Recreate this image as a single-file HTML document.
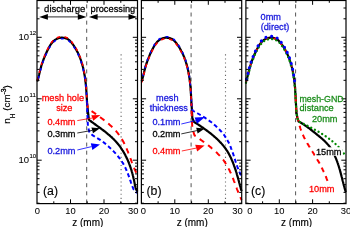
<!DOCTYPE html><html><head><meta charset="utf-8"><style>html,body{margin:0;padding:0;background:#fff;width:350px;height:227px;overflow:hidden}svg{display:block;will-change:transform}text{font-family:"Liberation Sans",sans-serif}</style></head><body>
<svg width="350" height="227" viewBox="0 0 350 227">
<rect width="350" height="227" fill="#fff"/>
<line x1="86.7" y1="0" x2="86.7" y2="203.6" stroke="#555" stroke-width="1" stroke-dasharray="4 4.127" stroke-dashoffset="3.73"/>
<line x1="121.1" y1="54.3" x2="121.1" y2="203.6" stroke="#666" stroke-width="1.1" stroke-dasharray="1.1 3"/>
<line x1="191.1" y1="0" x2="191.1" y2="203.6" stroke="#555" stroke-width="1" stroke-dasharray="4 4.127" stroke-dashoffset="3.73"/>
<line x1="225.5" y1="54.3" x2="225.5" y2="203.6" stroke="#666" stroke-width="1.1" stroke-dasharray="1.1 3"/>
<line x1="295.6" y1="0" x2="295.6" y2="203.6" stroke="#555" stroke-width="1" stroke-dasharray="4 4.127" stroke-dashoffset="3.73"/>
<g fill="none" stroke-linejoin="round">
<path d="M37.1,81.5 37.5,80.6 37.8,79.6 38.1,78.6 38.3,77.7 38.6,76.7 38.8,75.7 39.1,74.7 39.3,73.8 39.6,72.8 39.8,71.8 40,70.8 40.3,69.8 40.5,68.9 40.8,67.9 41.1,66.9 41.3,65.9 41.6,65 41.9,64 42.3,63 42.6,62.1 42.9,61.1 43.3,60.2 43.6,59.2 44,58.3 44.4,57.4 44.8,56.4 45.1,55.5 45.5,54.6 46,53.6 46.4,52.7 46.8,51.8 47.2,50.9 47.7,50 48.1,49.1 48.6,48.2 49.1,47.3 49.6,46.4 50.1,45.5 50.6,44.7 51.2,43.9 51.8,43.1 52.5,42.3 53.1,41.5 53.9,40.8 54.7,40.2 55.5,39.6 56.4,39.1 57.3,38.7 58.2,38.3 59.2,38 60.2,37.8 61.2,37.7 62.2,37.7 63.2,37.8 64.2,37.9 65.2,38.1 66.1,38.4 67.1,38.8 68,39.3 68.8,39.9 69.6,40.5 70.3,41.2 71,42 71.6,42.7 72.2,43.5 72.8,44.4 73.4,45.2 74,46 74.5,46.9 75.1,47.7 75.6,48.6 76.1,49.5 76.6,50.4 77,51.2 77.5,52.1 78,53.1 78.4,54 78.8,54.9 79.2,55.8 79.6,56.8 80,57.7 80.3,58.6 80.7,59.6 81,60.5 81.3,61.5 81.6,62.5 81.9,63.4 82.2,64.4 82.5,65.4 82.7,66.3 83,67.3 83.2,68.3 83.4,69.3 83.7,70.3 83.9,71.3 84.1,72.3 84.2,73.3 84.4,74.2 84.6,75.2 84.8,76.2 84.9,77.2 85.1,78.2 85.2,79.2 85.3,80.2 85.4,81.2 85.6,82.3 85.7,83.3 85.8,84.3 85.9,85.3 86,86.3 86.1,87.3 86.2,88.3 86.2,89.3 86.3,90.3 86.4,91.3 86.4,92.3 86.5,93.3 86.6,94.3 86.6,95.3 86.7,96.4 86.7,97.4 86.8,98.4 86.9,99.4 86.9,100.4 87,101.4 87,102.4 87.6,108 88.3,115 88.9,119.5 89.5,120.3 90.4,120.9 91.2,121.5 92,122.1 92.8,122.7 93.7,123.3 94.5,123.9 95.3,124.5 96.1,125.1 96.9,125.7 97.8,126.3 98.6,126.9 99.4,127.5 100.2,128 101,128.6 101.9,129.3 102.7,129.9 103.5,130.5 104.3,131.1 105.1,131.7 105.9,132.3 106.7,133 107.4,133.6 108.2,134.3 109,134.9 109.8,135.6 110.5,136.3 111.3,136.9 112,137.6 112.7,138.3 113.5,139 114.2,139.8 114.9,140.5 115.6,141.2 116.3,142 116.9,142.7 117.6,143.5 118.2,144.3 118.9,145.1 119.5,145.9 120.1,146.7 120.7,147.5 121.2,148.4 121.8,149.2 122.3,150.1 122.9,150.9 123.4,151.8 123.9,152.7 124.4,153.5 124.9,154.4 125.4,155.3 125.8,156.2 126.3,157.1 126.7,158.1 127.2,159 127.6,159.9 128,160.8 128.4,161.8 128.8,162.7 129.1,163.6 129.5,164.6 129.8,165.5 130.2,166.5 130.5,167.4 130.8,168.4 131.2,169.4 131.5,170.3 131.7,171.3 132,172.3 132.3,173.3 132.6,174.2 132.8,175.2 133.1,176.2 133.3,177.2 133.5,178.2 133.8,179.2 134,180.1 134.2,181.1 134.4,182.1 134.6,183.1 134.8,184.1 134.9,185.1 135.2,186.1 135.4,187.1 135.7,188.1 136,189 136.4,189.9 136.9,190.8 137.5,191.7" stroke="#000" stroke-width="2.2"/>
<path d="M37.1,80.5 37.5,79.6 37.8,78.6 38.1,77.6 38.3,76.7 38.6,75.7 38.8,74.7 39.1,73.7 39.3,72.8 39.6,71.8 39.8,70.8 40,69.8 40.3,68.8 40.5,67.9 40.8,66.9 41.1,65.9 41.3,64.9 41.6,64 41.9,63 42.3,62 42.6,61.1 42.9,60.1 43.3,59.2 43.6,58.2 44,57.3 44.4,56.4 44.8,55.4 45.1,54.5 45.5,53.6 46,52.6 46.4,51.7 46.8,50.8 47.2,49.9 47.7,49 48.1,48.1 48.6,47.2 49.1,46.3 49.6,45.4 50.1,44.5 50.6,43.7 51.2,42.9 51.8,42.1 52.5,41.3 53.1,40.5 53.9,39.8 54.7,39.2 55.5,38.6 56.4,38.1 57.3,37.7 58.2,37.3 59.2,37 60.2,36.8 61.2,36.7 62.2,36.7 63.2,36.8 64.2,36.9 65.2,37.1 66.1,37.4 67.1,37.8 68,38.3 68.8,38.9 69.6,39.5 70.3,40.2 71,41 71.6,41.7 72.2,42.5 72.8,43.4 73.4,44.2 74,45 74.5,45.9 75.1,46.7 75.6,47.6 76.1,48.5 76.6,49.4 77,50.2 77.5,51.1 78,52.1 78.4,53 78.8,53.9 79.2,54.8 79.6,55.8 80,56.7 80.3,57.6 80.7,58.6 81,59.5 81.3,60.5 81.6,61.5 81.9,62.4 82.2,63.4 82.5,64.4 82.7,65.3 83,66.3 83.2,67.3 83.4,68.3 83.7,69.3 83.9,70.3 84.1,71.3 84.2,72.3 84.4,73.2 84.6,74.2 84.8,75.2 84.9,76.2 85.1,77.2 85.2,78.2 85.3,79.2 85.4,80.2 85.6,81.3 85.7,82.3 85.8,83.3 85.9,84.3 86,85.3 86.1,86.3 86.2,87.3 86.2,88.3 86.3,89.3 86.4,90.3 86.4,91.3 86.5,92.3 86.6,93.3 86.6,94.3 86.7,95.4 86.7,96.4 86.8,97.4 86.9,98.4 86.9,99.4 87,100.4 87,101.4 87.1,102.4 87.1,103.4" stroke="#f00" stroke-width="1.6" stroke-dasharray="3.5 4.5" stroke-dashoffset="0"/>
<path d="M87.1,103.4 87.6,106.5 88.6,108.8 89.4,109.5 90.2,110.1 91,110.7 91.9,111.3 92.7,111.9 93.5,112.4 94.4,113 95.2,113.6 96,114.2 96.8,114.8 97.7,115.4 98.5,116 99.3,116.6 100.1,117.2 100.9,117.8 101.7,118.4 102.6,119 103.4,119.6 104.2,120.2 105,120.8 105.7,121.5 106.5,122.1 107.3,122.7 108.1,123.4 108.9,124.1 109.6,124.7 110.4,125.4 111.1,126.1 111.9,126.8 112.6,127.5 113.3,128.2 114,128.9 114.7,129.7 115.4,130.4 116.1,131.1 116.7,131.9 117.4,132.7 118,133.5 118.6,134.3 119.2,135.1 119.8,135.9 120.4,136.8 121,137.6 121.5,138.5 122,139.3 122.5,140.2 123,141.1 123.5,142 124,142.9 124.4,143.8 124.9,144.7 125.3,145.6 125.7,146.5 126.1,147.5 126.5,148.4 126.9,149.3 127.3,150.3 127.7,151.2 128.1,152.1 128.4,153.1 128.8,154 129.2,155 129.5,155.9 129.9,156.9 130.2,157.8 130.6,158.8 130.9,159.7 131.3,160.7 131.6,161.6 132,162.6 132.4,163.5 132.7,164.4 133.1,165.4 133.5,166.3 133.9,167.3 134.2,168.2 134.6,169.1 135,170.1 135.5,171 135.9,171.9 136.3,172.8 136.8,173.7 137.2,174.6" stroke="#f00" stroke-width="2" stroke-dasharray="5.5 4.9" stroke-dashoffset="1"/>
<path d="M37.1,82.5 37.5,81.6 37.8,80.6 38.1,79.6 38.3,78.7 38.6,77.7 38.8,76.7 39.1,75.7 39.3,74.8 39.6,73.8 39.8,72.8 40,71.8 40.3,70.8 40.5,69.9 40.8,68.9 41.1,67.9 41.3,66.9 41.6,66 41.9,65 42.3,64 42.6,63.1 42.9,62.1 43.3,61.2 43.6,60.2 44,59.3 44.4,58.4 44.8,57.4 45.1,56.5 45.5,55.6 46,54.6 46.4,53.7 46.8,52.8 47.2,51.9 47.7,51 48.1,50.1 48.6,49.2 49.1,48.3 49.6,47.4 50.1,46.5 50.6,45.7 51.2,44.9 51.8,44.1 52.5,43.3 53.1,42.5 53.9,41.8 54.7,41.2 55.5,40.6 56.4,40.1 57.3,39.7 58.2,39.3 59.2,39 60.2,38.8 61.2,38.7 62.2,38.7 63.2,38.8 64.2,38.9 65.2,39.1 66.1,39.4 67.1,39.8 68,40.3 68.8,40.9 69.6,41.5 70.3,42.2 71,43 71.6,43.7 72.2,44.5 72.8,45.4 73.4,46.2 74,47 74.5,47.9 75.1,48.7 75.6,49.6 76.1,50.5 76.6,51.4 77,52.2 77.5,53.1 78,54.1 78.4,55 78.8,55.9 79.2,56.8 79.6,57.8 80,58.7 80.3,59.6 80.7,60.6 81,61.5 81.3,62.5 81.6,63.5 81.9,64.4 82.2,65.4 82.5,66.4 82.7,67.3 83,68.3 83.2,69.3 83.4,70.3 83.7,71.3 83.9,72.3 84.1,73.3 84.2,74.3 84.4,75.2 84.6,76.2 84.8,77.2 84.9,78.2 85.1,79.2 85.2,80.2 85.3,81.2 85.4,82.2 85.6,83.3 85.7,84.3 85.8,85.3 85.9,86.3 86,87.3 86.1,88.3 86.2,89.3 86.2,90.3 86.3,91.3 86.4,92.3 86.4,93.3 86.5,94.3 86.6,95.3 86.6,96.3 86.7,97.4 86.7,98.4 86.8,99.4 86.9,100.4 86.9,101.4 87,102.4 87,103.4" stroke="#00f" stroke-width="1.6" stroke-dasharray="2.8 5.2" stroke-dashoffset="-4.2"/>
<path d="M87,103.4 87.4,115 87.9,125.9 89.1,131.2 89.5,132.2 90.2,133 90.8,133.7 91.6,134.4 92.4,135.1 93.2,135.7 94.1,136.2 94.9,136.8 95.8,137.3 96.7,137.8 97.6,138.3 98.5,138.8 99.3,139.3 100.2,139.9 101,140.5 101.9,141 102.7,141.7 103.5,142.3 104.3,142.9 105.1,143.5 105.9,144.2 106.7,144.9 107.4,145.5 108.2,146.2 109,146.9 109.7,147.6 110.4,148.3 111.2,149 111.9,149.7 112.6,150.4 113.4,151.2 114.1,151.9 114.8,152.6 115.5,153.4 116.1,154.1 116.8,154.9 117.5,155.7 118.1,156.5 118.8,157.3 119.4,158.1 120,158.9 120.6,159.7 121.2,160.5 121.8,161.4 122.3,162.2 122.9,163.1 123.4,164 123.9,164.9 124.3,165.8 124.8,166.7 125.3,167.6 125.7,168.5 126.1,169.5 126.5,170.4 126.9,171.3 127.3,172.3 127.7,173.2 128,174.2 128.4,175.1 128.8,176.1 129.1,177.1 129.4,178 129.8,179 130.1,179.9 130.5,180.9 130.8,181.9 131.1,182.8 131.5,183.8 131.8,184.8 132.1,185.7 132.5,186.7 132.9,187.6 133.3,188.6 133.7,189.5 134.3,190.3 134.9,191.2 135.6,191.9 136.4,192.5 137.3,193" stroke="#00f" stroke-width="2" stroke-dasharray="4 2.8" stroke-dashoffset="2"/>
<path d="M141.5,81.5 141.9,80.6 142.2,79.6 142.5,78.6 142.7,77.7 143,76.7 143.2,75.7 143.5,74.7 143.7,73.8 144,72.8 144.2,71.8 144.4,70.8 144.7,69.8 144.9,68.9 145.2,67.9 145.5,66.9 145.7,65.9 146,65 146.3,64 146.7,63 147,62.1 147.3,61.1 147.7,60.2 148,59.2 148.4,58.3 148.8,57.4 149.2,56.4 149.5,55.5 149.9,54.6 150.4,53.6 150.8,52.7 151.2,51.8 151.6,50.9 152.1,50 152.5,49.1 153,48.2 153.5,47.3 154,46.4 154.5,45.5 155,44.7 155.6,43.9 156.2,43.1 156.9,42.3 157.5,41.5 158.3,40.8 159.1,40.2 159.9,39.6 160.8,39.1 161.7,38.7 162.6,38.3 163.6,38 164.6,37.8 165.6,37.7 166.6,37.7 167.6,37.8 168.6,37.9 169.6,38.1 170.5,38.4 171.5,38.8 172.4,39.3 173.2,39.9 174,40.5 174.7,41.2 175.4,42 176,42.7 176.6,43.5 177.2,44.4 177.8,45.2 178.4,46 178.9,46.9 179.5,47.7 180,48.6 180.5,49.5 181,50.4 181.4,51.2 181.9,52.1 182.4,53.1 182.8,54 183.2,54.9 183.6,55.8 184,56.8 184.4,57.7 184.7,58.6 185.1,59.6 185.4,60.5 185.7,61.5 186,62.5 186.3,63.4 186.6,64.4 186.9,65.4 187.1,66.3 187.4,67.3 187.6,68.3 187.8,69.3 188.1,70.3 188.3,71.3 188.5,72.3 188.6,73.3 188.8,74.2 189,75.2 189.2,76.2 189.3,77.2 189.5,78.2 189.6,79.2 189.7,80.2 189.8,81.2 190,82.3 190.1,83.3 190.2,84.3 190.3,85.3 190.4,86.3 190.5,87.3 190.6,88.3 190.6,89.3 190.7,90.3 190.8,91.3 190.8,92.3 190.9,93.3 191,94.3 191,95.3 191.1,96.4 191.1,97.4 191.2,98.4 191.3,99.4 191.3,100.4 191.4,101.4 191.4,102.4 191.8,108 192.3,117.9 193.6,121 194.1,121.9 195,122.5 195.8,123 196.7,123.6 197.5,124.1 198.4,124.7 199.2,125.3 200.1,125.8 200.9,126.4 201.7,127 202.6,127.5 203.4,128.1 204.2,128.7 205.1,129.3 205.9,129.9 206.7,130.5 207.5,131.1 208.3,131.7 209.1,132.3 209.9,132.9 210.7,133.5 211.5,134.2 212.3,134.8 213.1,135.5 213.8,136.1 214.6,136.8 215.4,137.5 216.1,138.1 216.9,138.8 217.6,139.5 218.3,140.2 219,140.9 219.7,141.7 220.4,142.4 221.1,143.1 221.8,143.9 222.5,144.7 223.1,145.4 223.7,146.2 224.4,147 225,147.8 225.6,148.7 226.1,149.5 226.7,150.3 227.3,151.2 227.8,152 228.3,152.9 228.8,153.8 229.3,154.7 229.8,155.6 230.2,156.5 230.7,157.4 231.1,158.3 231.5,159.2 231.9,160.2 232.3,161.1 232.7,162 233.1,163 233.4,163.9 233.8,164.9 234.1,165.8 234.5,166.8 234.8,167.7 235.1,168.7 235.5,169.6 235.8,170.6 236.1,171.6 236.4,172.5 236.7,173.5 236.9,174.5 237.2,175.4 237.5,176.4 237.8,177.4 238.1,178.4 238.3,179.3 238.6,180.3 238.9,181.3 239.1,182.3 239.4,183.2 239.7,184.2 239.9,185.2 240.2,186.2 240.5,187.2 240.7,188.1 241,189.1 241.3,190.1 241.6,191" stroke="#000" stroke-width="2.2"/>
<path d="M141.5,80.5 141.9,79.6 142.2,78.6 142.5,77.6 142.7,76.7 143,75.7 143.2,74.7 143.5,73.7 143.7,72.8 144,71.8 144.2,70.8 144.4,69.8 144.7,68.8 144.9,67.9 145.2,66.9 145.5,65.9 145.7,64.9 146,64 146.3,63 146.7,62 147,61.1 147.3,60.1 147.7,59.2 148,58.2 148.4,57.3 148.8,56.4 149.2,55.4 149.5,54.5 149.9,53.6 150.4,52.6 150.8,51.7 151.2,50.8 151.6,49.9 152.1,49 152.5,48.1 153,47.2 153.5,46.3 154,45.4 154.5,44.5 155,43.7 155.6,42.9 156.2,42.1 156.9,41.3 157.5,40.5 158.3,39.8 159.1,39.2 159.9,38.6 160.8,38.1 161.7,37.7 162.6,37.3 163.6,37 164.6,36.8 165.6,36.7 166.6,36.7 167.6,36.8 168.6,36.9 169.6,37.1 170.5,37.4 171.5,37.8 172.4,38.3 173.2,38.9 174,39.5 174.7,40.2 175.4,41 176,41.7 176.6,42.5 177.2,43.4 177.8,44.2 178.4,45 178.9,45.9 179.5,46.7 180,47.6 180.5,48.5 181,49.4 181.4,50.2 181.9,51.1 182.4,52.1 182.8,53 183.2,53.9 183.6,54.8 184,55.8 184.4,56.7 184.7,57.6 185.1,58.6 185.4,59.5 185.7,60.5 186,61.5 186.3,62.4 186.6,63.4 186.9,64.4 187.1,65.3 187.4,66.3 187.6,67.3 187.8,68.3 188.1,69.3 188.3,70.3 188.5,71.3 188.6,72.3 188.8,73.2 189,74.2 189.2,75.2 189.3,76.2 189.5,77.2 189.6,78.2 189.7,79.2 189.8,80.2 190,81.3 190.1,82.3 190.2,83.3 190.3,84.3 190.4,85.3 190.5,86.3 190.6,87.3 190.6,88.3 190.7,89.3 190.8,90.3 190.8,91.3 190.9,92.3 191,93.3 191,94.3 191.1,95.4 191.1,96.4 191.2,97.4 191.3,98.4 191.3,99.4 191.4,100.4 191.4,101.4 191.5,102.4 191.5,103.4" stroke="#00f" stroke-width="1.6" stroke-dasharray="2.8 5.2" stroke-dashoffset="-4.6"/>
<path d="M191.5,103.4 192,107 192.5,110.5 193.4,111 194.3,111.5 195.2,112 196,112.5 196.9,113 197.8,113.5 198.7,114 199.6,114.5 200.4,115 201.3,115.5 202.2,116 203,116.6 203.9,117.1 204.7,117.6 205.6,118.2 206.4,118.8 207.3,119.3 208.1,119.9 208.9,120.5 209.7,121.1 210.6,121.7 211.4,122.3 212.2,123 212.9,123.6 213.7,124.2 214.5,124.9 215.3,125.6 216,126.2 216.8,126.9 217.5,127.6 218.2,128.3 218.9,129.1 219.6,129.8 220.3,130.5 221,131.3 221.7,132 222.3,132.8 222.9,133.6 223.6,134.4 224.2,135.2 224.8,136 225.3,136.9 225.9,137.7 226.4,138.6 227,139.5 227.5,140.3 227.9,141.2 228.4,142.1 228.9,143 229.3,143.9 229.7,144.9 230.1,145.8 230.5,146.7 230.9,147.7 231.2,148.6 231.6,149.6 231.9,150.5 232.3,151.5 232.6,152.4 233,153.4 233.3,154.3 233.6,155.3 233.9,156.3 234.2,157.2 234.5,158.2 234.8,159.2 235.2,160.1 235.5,161.1 235.8,162.1 236.1,163 236.4,164 236.8,164.9 237.1,165.9 237.4,166.8 237.8,167.8 238.1,168.7 238.5,169.7 238.9,170.6 239.3,171.6 239.7,172.5 240.1,173.4 240.5,174.3 241,175.2 241.5,176.1" stroke="#00f" stroke-width="2" stroke-dasharray="4 2.8" stroke-dashoffset="1"/>
<path d="M141.5,82.5 141.9,81.6 142.2,80.6 142.5,79.6 142.7,78.7 143,77.7 143.2,76.7 143.5,75.7 143.7,74.8 144,73.8 144.2,72.8 144.4,71.8 144.7,70.8 144.9,69.9 145.2,68.9 145.5,67.9 145.7,66.9 146,66 146.3,65 146.7,64 147,63.1 147.3,62.1 147.7,61.2 148,60.2 148.4,59.3 148.8,58.4 149.2,57.4 149.5,56.5 149.9,55.6 150.4,54.6 150.8,53.7 151.2,52.8 151.6,51.9 152.1,51 152.5,50.1 153,49.2 153.5,48.3 154,47.4 154.5,46.5 155,45.7 155.6,44.9 156.2,44.1 156.9,43.3 157.5,42.5 158.3,41.8 159.1,41.2 159.9,40.6 160.8,40.1 161.7,39.7 162.6,39.3 163.6,39 164.6,38.8 165.6,38.7 166.6,38.7 167.6,38.8 168.6,38.9 169.6,39.1 170.5,39.4 171.5,39.8 172.4,40.3 173.2,40.9 174,41.5 174.7,42.2 175.4,43 176,43.7 176.6,44.5 177.2,45.4 177.8,46.2 178.4,47 178.9,47.9 179.5,48.7 180,49.6 180.5,50.5 181,51.4 181.4,52.2 181.9,53.1 182.4,54.1 182.8,55 183.2,55.9 183.6,56.8 184,57.8 184.4,58.7 184.7,59.6 185.1,60.6 185.4,61.5 185.7,62.5 186,63.5 186.3,64.4 186.6,65.4 186.9,66.4 187.1,67.3 187.4,68.3 187.6,69.3 187.8,70.3 188.1,71.3 188.3,72.3 188.5,73.3 188.6,74.3 188.8,75.2 189,76.2 189.2,77.2 189.3,78.2 189.5,79.2 189.6,80.2 189.7,81.2 189.8,82.2 190,83.3 190.1,84.3 190.2,85.3 190.3,86.3 190.4,87.3 190.5,88.3 190.6,89.3 190.6,90.3 190.7,91.3 190.8,92.3 190.8,93.3 190.9,94.3 191,95.3 191,96.3 191.1,97.4 191.1,98.4 191.2,99.4 191.3,100.4 191.3,101.4 191.4,102.4 191.4,103.4" stroke="#f00" stroke-width="1.6" stroke-dasharray="3.5 4.5" stroke-dashoffset="0"/>
<path d="M191.4,103.4 191.8,118 192.3,127.7 194.2,134.5 194.7,135.5 195.5,136.1 196.4,136.6 197.2,137.2 198,137.8 198.8,138.4 199.7,139 200.5,139.6 201.3,140.2 202.1,140.8 202.9,141.4 203.8,142 204.6,142.6 205.4,143.2 206.2,143.8 207,144.4 207.8,145 208.6,145.6 209.4,146.3 210.2,146.9 211,147.5 211.7,148.2 212.5,148.8 213.3,149.5 214,150.2 214.8,150.9 215.5,151.5 216.3,152.2 217,152.9 217.7,153.7 218.4,154.4 219.1,155.1 219.8,155.8 220.5,156.6 221.1,157.4 221.8,158.1 222.4,158.9 223.1,159.7 223.7,160.5 224.3,161.3 224.8,162.2 225.4,163 225.9,163.9 226.5,164.7 227,165.6 227.5,166.5 228,167.4 228.5,168.3 228.9,169.2 229.4,170.1 229.8,171 230.2,171.9 230.7,172.8 231.1,173.8 231.5,174.7 231.9,175.6 232.2,176.5 232.6,177.5 233,178.4 233.4,179.4 233.7,180.3 234.1,181.3 234.5,182.2 234.8,183.2 235.2,184.1 235.5,185 235.9,186 236.2,186.9 236.6,187.9 236.9,188.8 237.3,189.8 237.7,190.7 238,191.7 238.4,192.6 238.8,193.6 239.2,194.5 239.6,195.4 240,196.4 240.4,197.3 240.8,198.2 241.2,199.1 241.6,200" stroke="#f00" stroke-width="2" stroke-dasharray="5.5 4.9" stroke-dashoffset="3"/>
<path d="M246,81.5 246.4,80.6 246.7,79.6 247,78.6 247.2,77.7 247.5,76.7 247.7,75.7 248,74.7 248.2,73.8 248.5,72.8 248.7,71.8 248.9,70.8 249.2,69.8 249.4,68.9 249.7,67.9 250,66.9 250.2,65.9 250.5,65 250.8,64 251.2,63 251.5,62.1 251.8,61.1 252.2,60.2 252.5,59.2 252.9,58.3 253.3,57.4 253.7,56.4 254,55.5 254.4,54.6 254.9,53.6 255.3,52.7 255.7,51.8 256.1,50.9 256.6,50 257,49.1 257.5,48.2 258,47.3 258.5,46.4 259,45.5 259.5,44.7 260.1,43.9 260.7,43.1 261.4,42.3 262,41.5 262.8,40.8 263.6,40.2 264.4,39.6 265.3,39.1 266.2,38.7 267.1,38.3 268.1,38 269.1,37.8 270.1,37.7 271.1,37.7 272.1,37.8 273.1,37.9 274.1,38.1 275,38.4 276,38.8 276.9,39.3 277.7,39.9 278.5,40.5 279.2,41.2 279.9,42 280.5,42.7 281.1,43.5 281.7,44.4 282.3,45.2 282.9,46 283.4,46.9 284,47.7 284.5,48.6 285,49.5 285.5,50.4 285.9,51.2 286.4,52.1 286.9,53.1 287.3,54 287.7,54.9 288.1,55.8 288.5,56.8 288.9,57.7 289.2,58.6 289.6,59.6 289.9,60.5 290.2,61.5 290.5,62.5 290.8,63.4 291.1,64.4 291.4,65.4 291.6,66.3 291.9,67.3 292.1,68.3 292.3,69.3 292.6,70.3 292.8,71.3 293,72.3 293.1,73.3 293.3,74.2 293.5,75.2 293.7,76.2 293.8,77.2 294,78.2 294.1,79.2 294.2,80.2 294.3,81.2 294.5,82.3 294.6,83.3 294.7,84.3 294.8,85.3 294.9,86.3 295,87.3 295.1,88.3 295.1,89.3 295.2,90.3 295.3,91.3 295.3,92.3 295.4,93.3 295.5,94.3 295.5,95.3 295.6,96.4 295.6,97.4 296.4,112 297.3,117.5 298.6,121.5 299.5,121.9 300.4,122.4 301.3,123 302.2,123.5 303,124 303.9,124.6 304.7,125.2 305.6,125.7 306.4,126.3 307.2,126.9 308,127.5 308.9,128.1 309.7,128.7 310.5,129.4 311.3,130 312.1,130.6 312.9,131.3 313.7,131.9 314.5,132.5 315.3,133.2 316.1,133.8 316.8,134.4 317.6,135.1 318.4,135.7 319.2,136.4 320,137 320.8,137.7 321.6,138.3 322.3,139 323.1,139.7 323.8,140.3 324.6,141 325.3,141.7 326,142.5 326.7,143.2 327.4,144 328.1,144.7 328.7,145.5 329.4,146.3 330,147.1 330.5,148 331.1,148.8 331.6,149.7 332.1,150.6 332.6,151.5 333.1,152.4 333.6,153.3 334,154.2 334.5,155.1 334.9,156 335.3,157 335.7,157.9 336.1,158.8 336.5,159.8 336.8,160.7 337.2,161.7 337.5,162.6 337.9,163.6 338.2,164.6 338.5,165.5 338.8,166.5 339.1,167.5 339.4,168.5 339.7,169.4 340,170.4 340.2,171.4 340.5,172.4 340.8,173.4 341,174.4 341.3,175.3 341.5,176.3 341.8,177.3 342.1,178.3 342.3,179.3 342.5,180.3 342.8,181.3 343.1,182.2 343.3,183.2 343.6,184.2 343.8,185.2 344.1,186.2 344.4,187.2 344.6,188.1 344.9,189.1 345.2,190.1 345.5,191.1 345.8,192" stroke="#000" stroke-width="2.2"/>
<path d="M246,81.8 246.4,80.9 246.7,79.9 247,78.9 247.2,78 247.5,77 247.7,76 248,75 248.2,74.1 248.5,73.1 248.7,72.1 248.9,71.1 249.2,70.1 249.4,69.2 249.7,68.2 250,67.2 250.2,66.2 250.5,65.3 250.8,64.3 251.2,63.3 251.5,62.4 251.8,61.4 252.2,60.5 252.5,59.5 252.9,58.6 253.3,57.7 253.7,56.7 254,55.8 254.4,54.9 254.9,53.9 255.3,53 255.7,52.1 256.1,51.2 256.6,50.3 257,49.4 257.5,48.5 258,47.6 258.5,46.7 259,45.8 259.5,45 260.1,44.2 260.7,43.4 261.4,42.6 262,41.8 262.8,41.1 263.6,40.5 264.4,39.9 265.3,39.4 266.2,39 267.1,38.6 268.1,38.3 269.1,38.1 270.1,38 271.1,38 272.1,38.1 273.1,38.2 274.1,38.4 275,38.7 276,39.1 276.9,39.6 277.7,40.2 278.5,40.8 279.2,41.5 279.9,42.3 280.5,43 281.1,43.8 281.7,44.7 282.3,45.5 282.9,46.3 283.4,47.2 284,48 284.5,48.9 285,49.8 285.5,50.7 285.9,51.5 286.4,52.4 286.9,53.4 287.3,54.3 287.7,55.2 288.1,56.1 288.5,57.1 288.9,58 289.2,58.9 289.6,59.9 289.9,60.8 290.2,61.8 290.5,62.8 290.8,63.7 291.1,64.7 291.4,65.7 291.6,66.6 291.9,67.6 292.1,68.6 292.3,69.6 292.6,70.6 292.8,71.6 293,72.6 293.1,73.6 293.3,74.5 293.5,75.5 293.7,76.5 293.8,77.5 294,78.5 294.1,79.5 294.2,80.5 294.3,81.5 294.5,82.6 294.6,83.6 294.7,84.6 294.8,85.6 294.9,86.6 295,87.6 295.1,88.6 295.1,89.6 295.2,90.6 295.3,91.6 295.3,92.6 295.4,93.6 295.5,94.6 295.5,95.6 295.6,96.7 295.6,97.7" stroke="#f00" stroke-width="1.6" stroke-dasharray="3 5" stroke-dashoffset="0"/>
<path d="M295.6,97.7 296.4,112 297.5,118 299.3,123.5 299.3,124.6 299.6,125.6 299.8,126.6 300.1,127.5 300.4,128.5 300.8,129.5 301.1,130.5 301.5,131.4 301.8,132.4 302.2,133.3 302.6,134.3 303.1,135.2 303.5,136.1 303.9,137 304.4,138 304.9,138.9 305.3,139.8 305.8,140.7 306.3,141.6 306.8,142.5 307.3,143.4 307.9,144.3 308.4,145.1 308.9,146 309.5,146.9 310,147.8 310.5,148.6 311.1,149.5 311.6,150.4 312.2,151.2 312.7,152.1 313.3,153 313.8,153.8 314.3,154.7 314.9,155.6 315.4,156.5 316,157.3 316.5,158.2 317,159.1 317.5,160 318.1,160.9 318.6,161.7 319.1,162.6 319.6,163.5 320.1,164.4 320.5,165.3 321,166.3 321.5,167.2 321.9,168.1 322.4,169 322.8,169.9 323.3,170.8 323.7,171.8 324.1,172.7 324.6,173.6 325,174.6 325.4,175.5 325.8,176.5 326.2,177.4 326.5,178.4 326.9,179.3 327.3,180.3 327.6,181.3 328,182.2 328.3,183.2 328.6,184.2 329,185.1 329.3,186.1" stroke="#f00" stroke-width="2" stroke-dasharray="5 4.5" stroke-dashoffset="0"/>
<path d="M246,82.8 246.4,81.9 246.7,80.9 247,79.9 247.2,79 247.5,78 247.7,77 248,76 248.2,75.1 248.5,74.1 248.7,73.1 248.9,72.1 249.2,71.1 249.4,70.2 249.7,69.2 250,68.2 250.2,67.2 250.5,66.3 250.8,65.3 251.2,64.3 251.5,63.4 251.8,62.4 252.2,61.5 252.5,60.5 252.9,59.6 253.3,58.7 253.7,57.7 254,56.8 254.4,55.9 254.9,54.9 255.3,54 255.7,53.1 256.1,52.2 256.6,51.3 257,50.4 257.5,49.5 258,48.6 258.5,47.7 259,46.8 259.5,46 260.1,45.2 260.7,44.4 261.4,43.6 262,42.8 262.8,42.1 263.6,41.5 264.4,40.9 265.3,40.4 266.2,40 267.1,39.6 268.1,39.3 269.1,39.1 270.1,39 271.1,39 272.1,39.1 273.1,39.2 274.1,39.4 275,39.7 276,40.1 276.9,40.6 277.7,41.2 278.5,41.8 279.2,42.5 279.9,43.3 280.5,44 281.1,44.8 281.7,45.7 282.3,46.5 282.9,47.3 283.4,48.2 284,49 284.5,49.9 285,50.8 285.5,51.7 285.9,52.5 286.4,53.4 286.9,54.4 287.3,55.3 287.7,56.2 288.1,57.1 288.5,58.1 288.9,59 289.2,59.9 289.6,60.9 289.9,61.8 290.2,62.8 290.5,63.8 290.8,64.7 291.1,65.7 291.4,66.7 291.6,67.6 291.9,68.6 292.1,69.6 292.3,70.6 292.6,71.6 292.8,72.6 293,73.6 293.1,74.6 293.3,75.5 293.5,76.5 293.7,77.5 293.8,78.5 294,79.5 294.1,80.5 294.2,81.5 294.3,82.5 294.5,83.6 294.6,84.6 294.7,85.6 294.8,86.6 294.9,87.6 295,88.6 295.1,89.6 295.1,90.6 295.2,91.6 295.3,92.6 295.3,93.6 295.4,94.6 295.5,95.6 295.5,96.6 295.6,97.7 296.4,112.5 297.3,117.8 298.6,121.6 299.6,121.9 300.6,122.4 301.5,122.8 302.4,123.3 303.3,123.7 304.3,124.2 305.2,124.6 306.1,125.1 307,125.6 307.9,126 308.9,126.5 309.8,127 310.7,127.4 311.6,127.9 312.5,128.4 313.4,128.9 314.3,129.4 315.2,129.9 316.1,130.4 317,130.9 317.9,131.4 318.8,131.9 319.7,132.4 320.6,132.9 321.4,133.5 322.3,134 323.2,134.6 324,135.1 324.9,135.7 325.8,136.3 326.6,136.9 327.4,137.5 328.3,138.1 329.1,138.7 329.9,139.3 330.7,139.9 331.5,140.5 332.3,141.2 333.1,141.9 333.9,142.5 334.7,143.2 335.4,143.9 336.2,144.6 336.9,145.3 337.7,146 338.4,146.8 339.1,147.5 339.8,148.3 340.5,149 341.1,149.8 341.8,150.6 342.4,151.4 343.1,152.2 343.7,153.1 344.3,153.9 344.9,154.7 345.4,155.6 346,156.5" stroke="#080" stroke-width="2.3" stroke-dasharray="0.1 4.1" stroke-linecap="round"/>
<path d="M246,80.1 246.4,79.2 246.7,78.2 247,77.2 247.2,76.3 247.5,75.3 247.7,74.3 248,73.3 248.2,72.4 248.5,71.4 248.7,70.4 248.9,69.4 249.2,68.4 249.4,67.5 249.7,66.5 250,65.5 250.2,64.5 250.5,63.6 250.8,62.6 251.2,61.6 251.5,60.7 251.8,59.7 252.2,58.8 252.5,57.8 252.9,56.9 253.3,56 253.7,55 254,54.1 254.4,53.2 254.9,52.2 255.3,51.3 255.7,50.4 256.1,49.5 256.6,48.6 257,47.7 257.5,46.8 258,45.9 258.5,45 259,44.1 259.5,43.3 260.1,42.5 260.7,41.7 261.4,40.9 262,40.1 262.8,39.4 263.6,38.8 264.4,38.2 265.3,37.7 266.2,37.3 267.1,36.9 268.1,36.6 269.1,36.4 270.1,36.3 271.1,36.3 272.1,36.4 273.1,36.5 274.1,36.7 275,37 276,37.4 276.9,37.9 277.7,38.5 278.5,39.1 279.2,39.8 279.9,40.6 280.5,41.3 281.1,42.1 281.7,43 282.3,43.8 282.9,44.6 283.4,45.5 284,46.3 284.5,47.2 285,48.1 285.5,49 285.9,49.8 286.4,50.7 286.9,51.7 287.3,52.6 287.7,53.5 288.1,54.4 288.5,55.4 288.9,56.3 289.2,57.2 289.6,58.2 289.9,59.1 290.2,60.1 290.5,61.1 290.8,62 291.1,63 291.4,64 291.6,64.9 291.9,65.9 292.1,66.9 292.3,67.9 292.6,68.9 292.8,69.9 293,70.9 293.1,71.9 293.3,72.8 293.5,73.8 293.7,74.8 293.8,75.8 294,76.8 294.1,77.8 294.2,78.8 294.3,79.8 294.5,80.9 294.6,81.9 294.7,82.9 294.8,83.9" stroke="#00f" stroke-width="3.0" stroke-dasharray="0.1 5.8" stroke-dashoffset="-1" stroke-linecap="round"/>
</g>
<g stroke="#000" fill="none">
<rect x="37" y="0.5" width="100.5" height="203.1" stroke-width="1.2"/>
<path d="M53.8,203.6v-2.3M53.8,0.5v2.3M70.5,203.6v-4.3M70.5,0.5v4.3M87.2,203.6v-2.3M87.2,0.5v2.3M104,203.6v-4.3M104,0.5v4.3M120.8,203.6v-2.3M120.8,0.5v2.3M37,203.2h2.5M137.5,203.2h-2.5M37,192.4h2.5M137.5,192.4h-2.5M37,184.7h2.5M137.5,184.7h-2.5M37,178.7h2.5M137.5,178.7h-2.5M37,173.9h2.5M137.5,173.9h-2.5M37,169.8h2.5M137.5,169.8h-2.5M37,166.2h2.5M137.5,166.2h-2.5M37,163.1h2.5M137.5,163.1h-2.5M37,160.2h4.7M137.5,160.2h-4.7M37,141.7h2.5M137.5,141.7h-2.5M37,130.9h2.5M137.5,130.9h-2.5M37,123.2h2.5M137.5,123.2h-2.5M37,117.3h2.5M137.5,117.3h-2.5M37,112.4h2.5M137.5,112.4h-2.5M37,108.3h2.5M137.5,108.3h-2.5M37,104.7h2.5M137.5,104.7h-2.5M37,101.6h2.5M137.5,101.6h-2.5M37,98.8h4.7M137.5,98.8h-4.7M37,80.3h2.5M137.5,80.3h-2.5M37,69.4h2.5M137.5,69.4h-2.5M37,61.8h2.5M137.5,61.8h-2.5M37,55.8h2.5M137.5,55.8h-2.5M37,50.9h2.5M137.5,50.9h-2.5M37,46.8h2.5M137.5,46.8h-2.5M37,43.3h2.5M137.5,43.3h-2.5M37,40.1h2.5M137.5,40.1h-2.5M37,37.3h4.7M137.5,37.3h-4.7M37,18.8h2.5M137.5,18.8h-2.5M37,8h2.5M137.5,8h-2.5" stroke-width="1"/>
<rect x="141.4" y="0.5" width="100.3" height="203.1" stroke-width="1.2"/>
<path d="M158.1,203.6v-2.3M158.1,0.5v2.3M174.8,203.6v-4.3M174.8,0.5v4.3M191.6,203.6v-2.3M191.6,0.5v2.3M208.3,203.6v-4.3M208.3,0.5v4.3M225,203.6v-2.3M225,0.5v2.3M141.4,203.2h2.5M241.7,203.2h-2.5M141.4,192.4h2.5M241.7,192.4h-2.5M141.4,184.7h2.5M241.7,184.7h-2.5M141.4,178.7h2.5M241.7,178.7h-2.5M141.4,173.9h2.5M241.7,173.9h-2.5M141.4,169.8h2.5M241.7,169.8h-2.5M141.4,166.2h2.5M241.7,166.2h-2.5M141.4,163.1h2.5M241.7,163.1h-2.5M141.4,160.2h4.7M241.7,160.2h-4.7M141.4,141.7h2.5M241.7,141.7h-2.5M141.4,130.9h2.5M241.7,130.9h-2.5M141.4,123.2h2.5M241.7,123.2h-2.5M141.4,117.3h2.5M241.7,117.3h-2.5M141.4,112.4h2.5M241.7,112.4h-2.5M141.4,108.3h2.5M241.7,108.3h-2.5M141.4,104.7h2.5M241.7,104.7h-2.5M141.4,101.6h2.5M241.7,101.6h-2.5M141.4,98.8h4.7M241.7,98.8h-4.7M141.4,80.3h2.5M241.7,80.3h-2.5M141.4,69.4h2.5M241.7,69.4h-2.5M141.4,61.8h2.5M241.7,61.8h-2.5M141.4,55.8h2.5M241.7,55.8h-2.5M141.4,50.9h2.5M241.7,50.9h-2.5M141.4,46.8h2.5M241.7,46.8h-2.5M141.4,43.3h2.5M241.7,43.3h-2.5M141.4,40.1h2.5M241.7,40.1h-2.5M141.4,37.3h4.7M241.7,37.3h-4.7M141.4,18.8h2.5M241.7,18.8h-2.5M141.4,8h2.5M241.7,8h-2.5" stroke-width="1"/>
<rect x="245.9" y="0.5" width="100.1" height="203.1" stroke-width="1.2"/>
<path d="M262.6,203.6v-2.3M262.6,0.5v2.3M279.3,203.6v-4.3M279.3,0.5v4.3M295.9,203.6v-2.3M295.9,0.5v2.3M312.6,203.6v-4.3M312.6,0.5v4.3M329.3,203.6v-2.3M329.3,0.5v2.3M245.9,203.2h2.5M346,203.2h-2.5M245.9,192.4h2.5M346,192.4h-2.5M245.9,184.7h2.5M346,184.7h-2.5M245.9,178.7h2.5M346,178.7h-2.5M245.9,173.9h2.5M346,173.9h-2.5M245.9,169.8h2.5M346,169.8h-2.5M245.9,166.2h2.5M346,166.2h-2.5M245.9,163.1h2.5M346,163.1h-2.5M245.9,160.2h4.7M346,160.2h-4.7M245.9,141.7h2.5M346,141.7h-2.5M245.9,130.9h2.5M346,130.9h-2.5M245.9,123.2h2.5M346,123.2h-2.5M245.9,117.3h2.5M346,117.3h-2.5M245.9,112.4h2.5M346,112.4h-2.5M245.9,108.3h2.5M346,108.3h-2.5M245.9,104.7h2.5M346,104.7h-2.5M245.9,101.6h2.5M346,101.6h-2.5M245.9,98.8h4.7M346,98.8h-4.7M245.9,80.3h2.5M346,80.3h-2.5M245.9,69.4h2.5M346,69.4h-2.5M245.9,61.8h2.5M346,61.8h-2.5M245.9,55.8h2.5M346,55.8h-2.5M245.9,50.9h2.5M346,50.9h-2.5M245.9,46.8h2.5M346,46.8h-2.5M245.9,43.3h2.5M346,43.3h-2.5M245.9,40.1h2.5M346,40.1h-2.5M245.9,37.3h4.7M346,37.3h-4.7M245.9,18.8h2.5M346,18.8h-2.5M245.9,8h2.5M346,8h-2.5" stroke-width="1"/>
</g>
<g stroke="#555" stroke-width="1.1">
<line x1="44" y1="16.9" x2="82" y2="16.9"/>
<line x1="93" y1="16.9" x2="132" y2="16.9"/>
</g>
<g fill="#000">
<path d="M39.2,16.9L47.9,14.1L47.9,19.7Z"/>
<path d="M86.5,16.9L77.8,19.7L77.8,14.1Z"/>
<path d="M88.9,16.9L97.6,14.1L97.6,19.7Z"/>
<path d="M137.2,16.9L128.5,19.7L128.5,14.1Z"/>
</g>
<line x1="77.3" y1="120.6" x2="92.3" y2="118" stroke="#f00" stroke-width="0.8"/><g fill="#f00"><path d="M100.4,115L93.3,120.8L91.3,115.2Z"/></g>
<line x1="77.3" y1="133" x2="92.2" y2="130.4" stroke="#000" stroke-width="0.8"/><g fill="#000"><path d="M100,128.2L93,133.2L91.4,127.6Z"/></g>
<line x1="77.3" y1="150" x2="91.6" y2="146.6" stroke="#00f" stroke-width="0.8"/><g fill="#00f"><path d="M100,144.6L92.4,149.9L90.8,143.3Z"/></g>
<line x1="181.3" y1="124" x2="195.8" y2="120.6" stroke="#00f" stroke-width="0.8"/><g fill="#00f"><path d="M205,117L197,123.8L194.6,117.4Z"/></g>
<line x1="181.3" y1="133.9" x2="196.9" y2="130.6" stroke="#000" stroke-width="0.8"/><g fill="#000"><path d="M204.8,128.6L197.6,133.5L196.2,127.7Z"/></g>
<line x1="181.8" y1="151" x2="196.2" y2="148.1" stroke="#f00" stroke-width="0.8"/><g fill="#f00"><path d="M204.6,145.6L197.2,151.4L195.2,144.8Z"/></g>
<text x="44.1" y="12.1" font-size="9.5" fill="#000" stroke="#000" stroke-width="0.26" text-anchor="start">discharge</text>
<text x="90.5" y="12" font-size="9.25" fill="#000" stroke="#000" stroke-width="0.26" text-anchor="start">processing</text>
<text x="62.9" y="101.3" font-size="9.2" fill="#f00" stroke="#f00" stroke-width="0.26" text-anchor="middle">mesh hole</text>
<text x="64.3" y="110.6" font-size="9.2" fill="#f00" stroke="#f00" stroke-width="0.26" text-anchor="middle">size</text>
<text x="47.4" y="125.1" font-size="9.2" fill="#f00" stroke="#f00" stroke-width="0.26" text-anchor="start">0.4mm</text>
<text x="47.4" y="137.1" font-size="9.2" fill="#000" stroke="#000" stroke-width="0.26" text-anchor="start">0.3mm</text>
<text x="47.4" y="154.4" font-size="9.2" fill="#1414dc" stroke="#1414dc" stroke-width="0.26" text-anchor="start">0.2mm</text>
<text x="167.3" y="100.8" font-size="9.2" fill="#1414dc" stroke="#1414dc" stroke-width="0.26" text-anchor="middle">mesh</text>
<text x="168.8" y="110.9" font-size="9.2" fill="#1414dc" stroke="#1414dc" stroke-width="0.26" text-anchor="middle">thickness</text>
<text x="152.4" y="125.4" font-size="9.2" fill="#1414dc" stroke="#1414dc" stroke-width="0.26" text-anchor="start">0.1mm</text>
<text x="152.4" y="137.2" font-size="9.2" fill="#000" stroke="#000" stroke-width="0.26" text-anchor="start">0.2mm</text>
<text x="152.4" y="153.8" font-size="9.2" fill="#f00" stroke="#f00" stroke-width="0.26" text-anchor="start">0.4mm</text>
<text x="260.6" y="20.1" font-size="9.2" fill="#1414dc" stroke="#1414dc" stroke-width="0.26" text-anchor="start">0mm</text>
<text x="260.7" y="30.2" font-size="9.2" fill="#1414dc" stroke="#1414dc" stroke-width="0.26" text-anchor="start">(direct)</text>
<text x="299.4" y="101.6" font-size="9.2" fill="#1a8c1a" stroke="#1a8c1a" stroke-width="0.26" textLength="44.4" lengthAdjust="spacingAndGlyphs">mesh-GND</text>
<text x="299.5" y="111.1" font-size="9.2" fill="#1a8c1a" stroke="#1a8c1a" stroke-width="0.26" text-anchor="start">distance</text>
<text x="312" y="121.6" font-size="9.2" fill="#1a8c1a" stroke="#1a8c1a" stroke-width="0.26" text-anchor="start">20mm</text>
<rect x="315.5" y="147.3" width="27" height="8.5" fill="#fff"/>
<text x="316" y="155.3" font-size="9.2" fill="#000" stroke="#000" stroke-width="0.26" text-anchor="start">15mm</text>
<rect x="309" y="184.5" width="25.5" height="8.5" fill="#fff"/>
<text x="309" y="192.2" font-size="9.2" fill="#f00" stroke="#f00" stroke-width="0.26" text-anchor="start">10mm</text>
<text x="43" y="195.2" font-size="12.3" fill="#000" stroke="#000" stroke-width="0.12" text-anchor="start">(a)</text>
<text x="146.5" y="195.2" font-size="12.3" fill="#000" stroke="#000" stroke-width="0.12" text-anchor="start">(b)</text>
<text x="251" y="195.2" font-size="12.3" fill="#000" stroke="#000" stroke-width="0.12" text-anchor="start">(c)</text>
<text x="37.4" y="214.2" font-size="9.4" fill="#000" stroke="#000" stroke-width="0.05" text-anchor="middle">0</text>
<text x="70.5" y="214.2" font-size="9.4" fill="#000" stroke="#000" stroke-width="0.05" text-anchor="middle">10</text>
<text x="104" y="214.2" font-size="9.4" fill="#000" stroke="#000" stroke-width="0.05" text-anchor="middle">20</text>
<text x="133.3" y="214.2" font-size="9.4" fill="#000" stroke="#000" stroke-width="0.05" text-anchor="middle">30</text>
<text x="87.8" y="225.7" font-size="10" fill="#000" stroke="#000" stroke-width="0.15" text-anchor="middle">z (mm)</text>
<text x="143.4" y="214.2" font-size="9.4" fill="#000" stroke="#000" stroke-width="0.05" text-anchor="middle">0</text>
<text x="174.8" y="214.2" font-size="9.4" fill="#000" stroke="#000" stroke-width="0.05" text-anchor="middle">10</text>
<text x="208.3" y="214.2" font-size="9.4" fill="#000" stroke="#000" stroke-width="0.05" text-anchor="middle">20</text>
<text x="237.5" y="214.2" font-size="9.4" fill="#000" stroke="#000" stroke-width="0.05" text-anchor="middle">30</text>
<text x="192.2" y="225.7" font-size="10" fill="#000" stroke="#000" stroke-width="0.15" text-anchor="middle">z (mm)</text>
<text x="249.9" y="214.2" font-size="9.4" fill="#000" stroke="#000" stroke-width="0.05" text-anchor="middle">0</text>
<text x="279.3" y="214.2" font-size="9.4" fill="#000" stroke="#000" stroke-width="0.05" text-anchor="middle">10</text>
<text x="312.6" y="214.2" font-size="9.4" fill="#000" stroke="#000" stroke-width="0.05" text-anchor="middle">20</text>
<text x="346" y="214.2" font-size="9.4" fill="#000" stroke="#000" stroke-width="0.05" text-anchor="middle">30</text>
<text x="296.6" y="225.7" font-size="10" fill="#000" stroke="#000" stroke-width="0.15" text-anchor="middle">z (mm)</text>
<text x="29.0" y="163.1" font-size="9.5" text-anchor="end" stroke="#000" stroke-width="0.05">10</text>
<text x="29.5" y="158.3" font-size="6.0" stroke="#000" stroke-width="0.1">10</text>
<text x="29.0" y="101.7" font-size="9.5" text-anchor="end" stroke="#000" stroke-width="0.05">10</text>
<text x="29.5" y="96.9" font-size="6.0" stroke="#000" stroke-width="0.1">11</text>
<text x="29.0" y="40.2" font-size="9.5" text-anchor="end" stroke="#000" stroke-width="0.05">10</text>
<text x="29.5" y="35.4" font-size="6.0" stroke="#000" stroke-width="0.1">12</text>
<text transform="translate(10.1,104.4) rotate(-90)" font-size="9.8" text-anchor="middle" stroke="#000" stroke-width="0.15">n<tspan font-size="6.6" dy="4.6">H</tspan><tspan dy="-4.6"> (cm</tspan><tspan font-size="6.8" dy="-4.2" stroke-width="0.3">-3</tspan><tspan dy="4.2">)</tspan></text>
</svg></body></html>
